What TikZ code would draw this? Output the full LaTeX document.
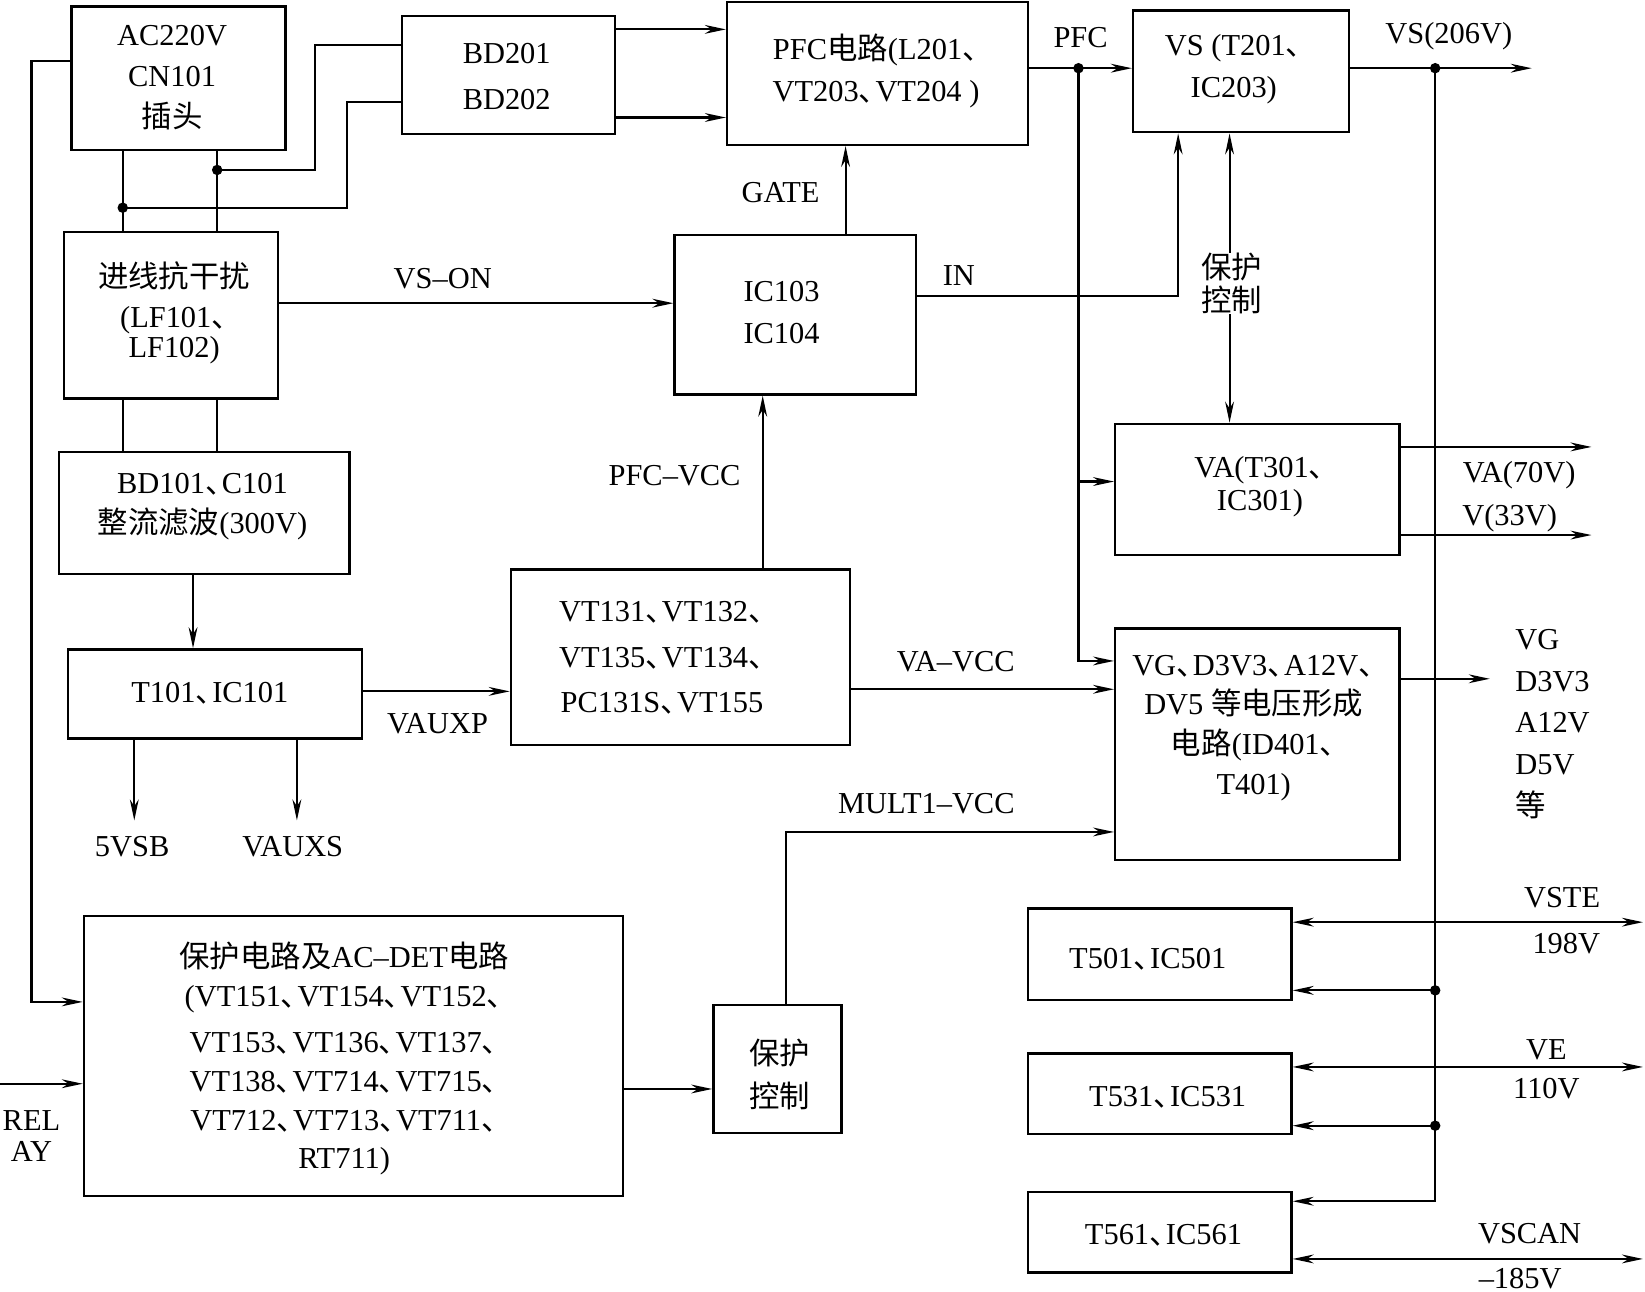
\documentclass[tikz,border=0pt]{standalone}
\usepackage{fontspec}
\setmainfont{Liberation Serif}
\newfontfamily\cjk{Noto Sans CJK SC}
\newcommand\zh[1]{{\cjk #1}}
\newcommand\dn{{\cjk\makebox[0.55em][l]{、}}}
\usetikzlibrary{arrows.meta,fit}
\begin{document}
\begin{tikzpicture}[x=0.5pt,y=-0.5pt,
  box/.style={draw, line width=1.15pt, inner sep=0pt},
  txt/.style={font=\fontsize{14.5pt}{#1}\selectfont, inner sep=0pt, align=center},
  txt/.default=19.5pt,
  lb/.style={txt, text height=9.7pt, text depth=0pt},
  ln/.style={line width=1pt},
  tip/.tip={Stealth[length=10pt,width=4.2pt,inset=3.2pt]},
  arr/.style={ln, -tip},
  darr/.style={ln, tip-tip},
  dot/.style={circle, fill, inner sep=0pt, minimum size=5pt}
]
\useasboundingbox (0,0) rectangle (1568,1231);

% boxes
\node[box, fit={(68,6)(272,143)}] (AC) {};
\node[box, fit={(383,15)(586,128)}] (BD) {};
\node[box, fit={(693,2)(980,138)}] (PFC) {};
\node[box, fit={(1080,10)(1286,126)}] (VS) {};
\node[box, fit={(61,221)(265,380)}] (JX) {};
\node[box, fit={(643,224)(873,376)}] (IC) {};
\node[box, fit={(56,431)(333,547)}] (BD1) {};
\node[box, fit={(65,619)(345,704)}] (T101) {};
\node[box, fit={(487,543)(810,710)}] (VT) {};
\node[box, fit={(1063,404)(1334,529)}] (VA) {};
\node[box, fit={(1063,599)(1334,820)}] (VG) {};
\node[box, fit={(80,873)(594,1140)}] (PROT) {};
\node[box, fit={(680,958)(802,1080)}] (PC) {};
\node[box, fit={(980,866)(1231,953)}] (T501) {};
\node[box, fit={(980,1004)(1231,1081)}] (T531) {};
\node[box, fit={(980,1136)(1231,1213)}] (T561) {};

% box texts
\node[txt=19.5pt] (ACt) at (164,74) {AC220V\\CN101\\\zh{插头}};
\node[txt=21.5pt] (BDt) at (483,73) {BD201\\BD202};
\node[txt=20pt] (PFCt) at (835,68) {PFC\zh{电路}(L201\dn\\VT203\dn VT204 )};
\node[txt=20pt] (VSt) at (1176,66) {VS (T201\dn\\IC203)};
\node[txt=14.5pt] (JXt) at (166,298) {\zh{进线抗干扰}\\[4.5pt](LF101\dn\\LF102)};
\node[txt=20pt] (ICt) at (745,298) {IC103\\IC104};
\node[txt=19pt] (BD1t) at (193,483) {BD101\dn C101\\\zh{整流滤波}(300V)};
\node[lb] (T101t) at (200,660) {T101\dn IC101};
\node[txt=21.5pt] (VTt) at (631,627) {VT131\dn VT132\dn\\VT135\dn VT134\dn\\PC131S\dn VT155};
\node[txt=16pt] (VAt) at (1201,464) {VA(T301\dn\\IC301)};
\node[txt=19pt] (VGt) at (1195,694) {VG\dn D3V3\dn A12V\dn\\DV5 \zh{等电压形成}\\\zh{电路}(ID401\dn\\T401)};
\node[txt=18.5pt] (PROTt) at (328,1009) {\zh{保护电路及}AC–DET\zh{电路}\\(VT151\dn VT154\dn VT152\dn\\[3.5pt]VT153\dn VT136\dn VT137\dn\\VT138\dn VT714\dn VT715\dn\\VT712\dn VT713\dn VT711\dn\\RT711)};
\node[txt=20.5pt] (PCt) at (743,1024) {\zh{保护}\\\zh{控制}};
\node[lb] (T501t) at (1094,913) {T501\dn IC501};
\node[lb] (T531t) at (1113,1045) {T531\dn IC531};
\node[lb] (T561t) at (1109,1177) {T561\dn IC561};

% junctions and free ends
\coordinate (j1) at (207,162);
\coordinate (j2) at (117,198);
\coordinate (j3) at (1028,65);
\coordinate (j4) at (1368,65);
\coordinate (j5) at (1368,944);
\coordinate (j6) at (1368,1073);
\coordinate (vsout) at (1460,65);
\coordinate (vaout1) at (1517,426);
\coordinate (vaout2) at (1517,510);
\coordinate (vgout) at (1420,647);
\coordinate (o5v) at (128,782);
\coordinate (oaux) at (283,782);
\coordinate (rin) at (0,1033);
\coordinate (vste) at (1566,879);
\coordinate (ve) at (1566,1017);
\coordinate (vscan) at (1566,1200);

% connectors
\draw[arr] (BD.east |- 0,28) -- (PFC.west |- 0,28);
\draw[arr] (BD.east |- 0,112) -- (PFC.west |- 0,112);
\draw[ln] (AC.south -| j1) -- (JX.north -| j1);
\draw[ln] (AC.south -| j2) -- (JX.north -| j2);
\draw[ln] (j1) -| (300,43) -- (BD.west |- 0,43);
\draw[ln] (j2) -| (331,97) -- (BD.west |- 0,97);
\draw[arr] (AC.west |- 0,58) -| (30,955) -- (PROT.west |- 0,955);
\draw[ln] (JX.south -| j1) -- (BD1.north -| j1);
\draw[ln] (JX.south -| j2) -- (BD1.north -| j2);
\draw[arr] (JX.east |- 0,289) -- (IC.west |- 0,289);
\draw[arr] (IC.north -| 806,0) -- (PFC.south -| 806,0);
\draw[arr] (IC.east |- 0,282) -| (VS.south -| 1123,0);
\draw[darr] (VS.south -| 1172,0) -- (VA.north -| 1172,0);
\draw[arr] (PFC.east |- j3) -- (VS.west |- j3);
\draw[arr] (j3) |- (VG.west |- 0,630);
\draw[arr] (j3 |- 0,459) -- (VA.west |- 0,459);
\draw[arr] (VS.east |- vsout) -- (vsout);
\draw[arr] (j4) |- (T561.east |- 0,1145);
\draw[arr] (j5) -- (T501.east |- j5);
\draw[arr] (j6) -- (T531.east |- j6);
\draw[arr] (VA.east |- vaout1) -- (vaout1);
\draw[arr] (VA.east |- vaout2) -- (vaout2);
\draw[arr] (VG.east |- vgout) -- (vgout);
\draw[arr] (VT.east |- 0,657) -- (VG.west |- 0,657);
\draw[arr] (PC.north -| 749,0) |- (VG.west |- 0,793);
\draw[arr] (PROT.east |- 0,1038) -- (PC.west |- 0,1038);
\draw[arr] (rin) -- (PROT.west |- rin);
\draw[arr] (BD1.south -| 184,0) -- (T101.north -| 184,0);
\draw[arr] (T101.east |- 0,659) -- (VT.west |- 0,659);
\draw[arr] (T101.south -| o5v) -- (o5v);
\draw[arr] (T101.south -| oaux) -- (oaux);
\draw[arr] (VT.north -| 727,0) -- (IC.south -| 727,0);
\draw[darr] (T501.east |- vste) -- (vste);
\draw[darr] (T531.east |- ve) -- (ve);
\draw[darr] (T561.east |- vscan) -- (vscan);

\foreach \j in {j1,j2,j3,j4,j5,j6} \node[dot] at (\j) {};

% labels
\node[lb] (lvson) at (422,265) {VS–ON};
\node[lb] (lvauxp) at (417,689) {VAUXP};
\node[lb] (l5vsb) at (126,807) {5VSB};
\node[lb] (lvauxs) at (279,807) {VAUXS};
\node[lb] (lpfcvcc) at (643,453) {PFC–VCC};
\node[lb] (lgate) at (744,183) {GATE};
\node[lb] (lin) at (914,262) {IN};
\node[lb] (lpfc) at (1030,36) {PFC};
\node[lb] (lvs) at (1381,32) {VS(206V)};
\node[lb] (lva) at (1448,450) {VA(70V)};
\node[lb] (lv33) at (1439,491) {V(33V)};
\node[lb] (lvavcc) at (911,630) {VA–VCC};
\node[lb] (lmult) at (883,766) {MULT1–VCC};
\node[lb] (lvste) at (1489,855) {VSTE};
\node[lb] (l198) at (1493,899) {198V};
\node[lb] (lve) at (1474,1000) {VE};
\node[lb] (l110) at (1474,1037) {110V};
\node[lb] (lvscan) at (1458,1176) {VSCAN};
\node[lb] (l185) at (1449,1218) {–185V};
\node[txt=15pt] (lrelay) at (30,1083) {REL\\AY};
\node[txt=16pt, fill=white] (lprot) at (1174,270) {\zh{保护}\\\zh{控制}};
\node[txt=19.9pt, align=left, anchor=west] (lvg) at (1444,690) {VG\\D3V3\\A12V\\D5V\\\zh{等}};
\end{tikzpicture}
\end{document}
